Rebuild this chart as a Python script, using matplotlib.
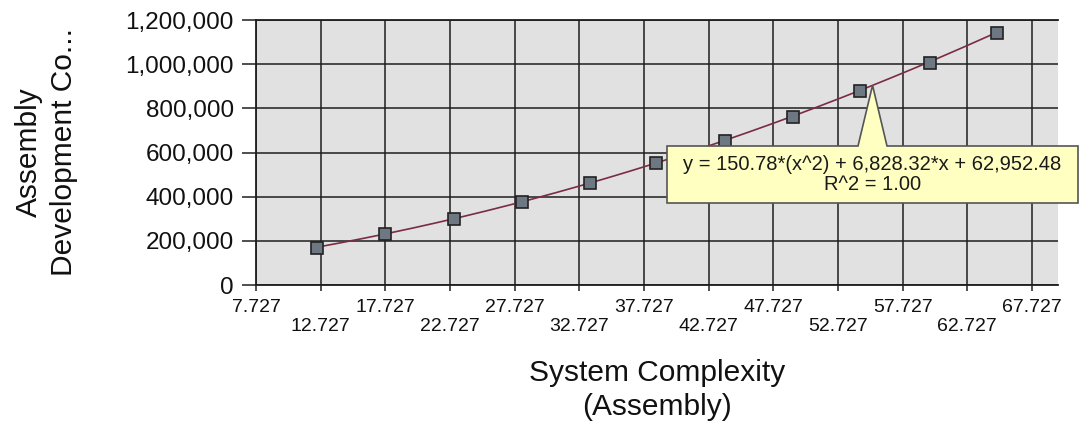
import numpy as np
import matplotlib.pyplot as plt
from matplotlib.patches import Polygon
from matplotlib.ticker import FuncFormatter

plt.rcParams['font.family'] = ['Liberation Sans', 'DejaVu Sans']

# system complexity vs. assembly development cost
complexity = [12.47, 17.74, 23.05, 28.29, 33.53, 38.63, 44.0, 49.24, 54.45, 59.82, 65.06]
dev_cost = [167000, 231000, 300000, 377000, 461000, 552000, 653000, 760000, 879000, 1004000, 1142000]

# quadratic trend: a*x^2 + b*x + c
fit_coef = [150.78, 6828.32, 62952.48]
fit_r2 = 1.00

x_ticks = [7.727 + 5 * i for i in range(13)]
x_ticklabels = ['%.3f' % t if i % 2 == 0 else '\n%.3f' % t for i, t in enumerate(x_ticks)]
y_ticks = [0, 200000, 400000, 600000, 800000, 1000000, 1200000]

fig = plt.figure(figsize=(10.8, 4.29), dpi=100)
ax = fig.add_axes([256 / 1080, 1 - 285 / 429, 802 / 1080, 265 / 429])
ax.set_facecolor('#e1e1e1')

ax.set_xlim(7.727, 69.74)
ax.set_ylim(0, 1200000)
ax.set_xticks(x_ticks)
ax.set_xticklabels(x_ticklabels)
ax.set_yticks(y_ticks)
ax.yaxis.set_major_formatter(FuncFormatter(lambda v, p: '{:,.0f}'.format(v)))

ax.grid(True, color='#1e1e1e', linewidth=1.1)
ax.set_axisbelow(True)
ax.spines['right'].set_visible(False)
for side in ['left', 'bottom', 'top']:
    ax.spines[side].set_color('#1e1e1e')
    ax.spines[side].set_linewidth(1.3)

ax.tick_params(axis='x', length=4.5, width=1.1, color='#1e1e1e', pad=5.5,
               labelsize=14, labelcolor='#111111')
ax.tick_params(axis='y', length=10, width=1.1, color='#1e1e1e', pad=6,
               labelsize=17.5, labelcolor='#111111')

# trend curve
xs = np.linspace(complexity[0], complexity[-1], 200)
ys = np.polyval(fit_coef, xs)
ax.plot(xs, ys, color='#7a2c45', linewidth=1.2, zorder=3)

ax.plot(complexity, dev_cost, linestyle='none', marker='s', markersize=9,
        markerfacecolor='#6e7883', markeredgecolor='#222222', markeredgewidth=1.2,
        zorder=4)

ax.set_xlabel('System Complexity\n(Assembly)', fontsize=21.5, color='#111111',
              labelpad=17, linespacing=1.25)
ax.set_ylabel('Assembly\nDevelopment Co...', fontsize=21.5, color='#111111',
              linespacing=1.3)
ax.yaxis.set_label_coords(-0.222, 0.5)

# callout box with pointer to the trend curve
fig.canvas.draw()
px = 55.4
apex = ax.transData.transform((px, np.polyval(fit_coef, px)))
apex = fig.transFigure.inverted().transform(apex)
W, H = 1080.0, 429.0
x0, x1 = 667 / W, 1078 / W
yt, yb = 1 - 146 / H, 1 - 203 / H
verts = [(x0, yb), (x0, yt), (858 / W, yt), tuple(apex), (887 / W, yt), (x1, yt), (x1, yb)]
callout = Polygon(verts, closed=True, transform=fig.transFigure, facecolor='#ffffc2',
                  edgecolor='#555555', linewidth=1.2, zorder=10, clip_on=False)
fig.patches.append(callout)

eq_text = 'y = {:,.2f}*(x^2) + {:,.2f}*x + {:,.2f}\nR^2 = {:.2f}'.format(
    fit_coef[0], fit_coef[1], fit_coef[2], fit_r2)
fig.text((x0 + x1) / 2, (yt + yb) / 2, eq_text, ha='center', va='center',
         fontsize=14.5, color='#1a1a1a', linespacing=1.1, zorder=11)

fig.savefig('out.png', dpi=100, facecolor='white')
